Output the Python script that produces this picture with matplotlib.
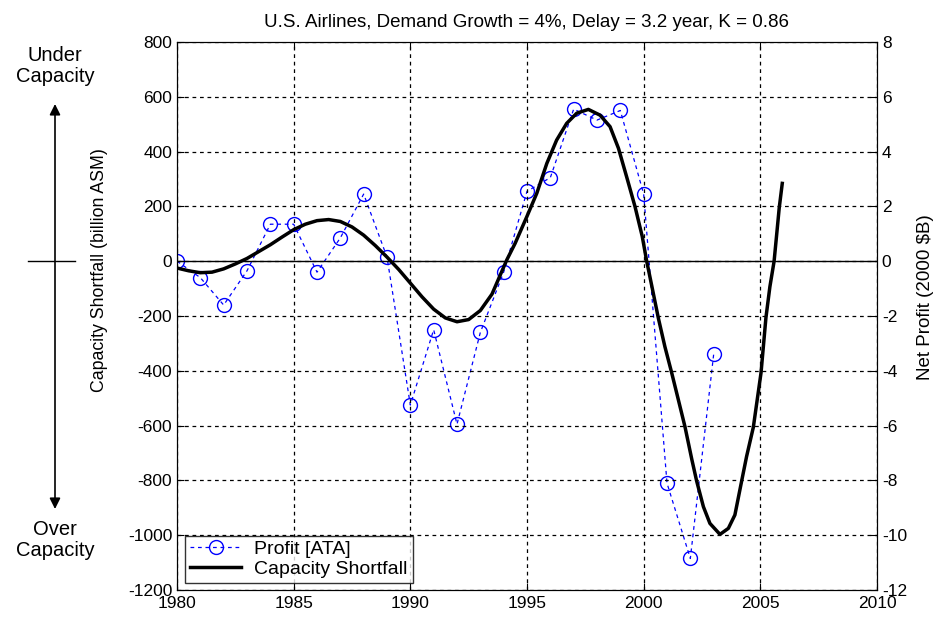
import matplotlib
matplotlib.use("Agg")
import matplotlib.pyplot as plt
from matplotlib.lines import Line2D

plt.rcParams['font.family'] = ['Liberation Sans', 'DejaVu Sans']
plt.rcParams['axes.unicode_minus'] = False

# Profit [ATA], net profit in 2000 $B (right axis)
profit_years = list(range(1980, 2004))
profit = [0.0, -0.6, -1.6, -0.35, 1.35, 1.35, -0.4, 0.85, 2.45, 0.15,
          -5.25, -2.5, -5.95, -2.6, -0.4, 2.55, 3.05, 5.55, 5.15, 5.5,
          2.45, -8.1, -10.85, -3.4]

# Capacity shortfall, billion ASM (left axis)
cap_years = [1980.0, 1980.5, 1981.0, 1981.5, 1982.0, 1982.5, 1983.0, 1983.5,
             1984.0, 1984.5, 1985.0, 1985.5, 1986.0, 1986.5, 1987.0, 1987.5,
             1988.0, 1988.5, 1989.0, 1989.5, 1990.0, 1990.5, 1991.0, 1991.5,
             1992.0, 1992.5, 1993.0, 1993.5, 1994.13, 1994.49, 1994.99,
             1995.42, 1995.85, 1996.27, 1996.7, 1997.13, 1997.63, 1998.13,
             1998.56, 1998.92, 1999.27, 1999.63, 1999.94, 2000.13, 2000.35,
             2000.63, 2000.91, 2001.2, 2001.49, 2001.77, 2002.06, 2002.27,
             2002.56, 2002.84, 2003.27, 2003.63, 2003.91, 2004.2, 2004.41,
             2004.7, 2005.03, 2005.24, 2005.41, 2005.59, 2005.7, 2005.81,
             2005.94]
cap_short = [-25, -35, -42, -40, -28, -10, 10, 35,
             60, 88, 115, 135, 148, 152, 145, 125,
             95, 57, 15, -30, -80, -130, -175, -207,
             -221, -213, -180, -120, 4, 65, 162,
             248, 357, 442, 503, 540, 554, 533,
             491, 412, 308, 199, 90, 0, -91,
             -208, -312, -407, -507, -604, -722, -802,
             -896, -957, -997, -975, -926, -802, -713,
             -606, -407, -206, -93, 0, 97, 195,
             284]

fig = plt.figure(figsize=(9.4, 6.2), dpi=100)
ax = fig.add_axes([177/940, 30/620, 700/940, 548/620])
ax2 = ax.twinx()

ax.set_xlim(1980, 2010)
ax.set_ylim(-1200, 800)
ax2.set_ylim(-12, 8)
ax.set_xticks(range(1980, 2011, 5))
ax.set_yticks(range(-1200, 801, 200))
ax2.set_yticks(range(-12, 9, 2))

ax.grid(True, color='black', linestyle=(0, (3, 3)), linewidth=0.9)
ax.axhline(0, color='black', linewidth=1.0)

l1, = ax2.plot(profit_years, profit, color='blue', linestyle=(0, (3, 3)),
               linewidth=0.9, marker='o', markersize=10,
               markerfacecolor='none', markeredgecolor='blue',
               markeredgewidth=1.0, label='Profit [ATA]')
l2, = ax.plot(cap_years, cap_short, color='black', linewidth=2.5,
              label='Capacity Shortfall')
ax.set_zorder(ax2.get_zorder() + 1)
ax.patch.set_visible(False)

for a in (ax, ax2):
    a.tick_params(direction='in', length=5, labelsize=12.5, top=True)
ax.tick_params(axis='x', pad=4)

ax.set_ylabel('Capacity Shortfall (billion ASM)', fontsize=12.8)
ax.yaxis.set_label_coords(-0.098, 0.584)
ax2.set_ylabel('Net Profit (2000 $B)', fontsize=13.5)
ax2.yaxis.set_label_coords(1.057, 0.535)

ax.set_title('U.S. Airlines, Demand Growth = 4%, Delay = 3.2 year, K = 0.86',
             fontsize=13.5, pad=11)

leg = ax.legend([l1, l2], ['Profit [ATA]', 'Capacity Shortfall'],
                loc='lower left', bbox_to_anchor=(0.012, 0.013),
                fontsize=14, frameon=True, fancybox=False,
                borderaxespad=0, handlelength=2.6, borderpad=0.25,
                labelspacing=0.12, handletextpad=0.7)
leg.get_frame().set_edgecolor('black')
leg.get_frame().set_linewidth(1.0)

# left side annotation
fig.text(55/940, 1 - 66/620, 'Under\nCapacity', ha='center', va='center',
         fontsize=14.5, linespacing=1.15)
fig.text(55/940, 1 - 540/620, 'Over\nCapacity', ha='center', va='center',
         fontsize=14.5, linespacing=1.15)
ax.annotate('', xy=(55, 620 - 104), xytext=(55, 620 - 509),
            xycoords='figure pixels', textcoords='figure pixels',
            arrowprops=dict(arrowstyle='<|-|>', color='black', lw=1.2,
                            mutation_scale=16, shrinkA=0, shrinkB=0))
fig.add_artist(Line2D([28/940, 75/940], [1 - 261/620, 1 - 261/620],
                      transform=fig.transFigure, color='black', lw=1.0))

fig.savefig('out.png', dpi=100)
